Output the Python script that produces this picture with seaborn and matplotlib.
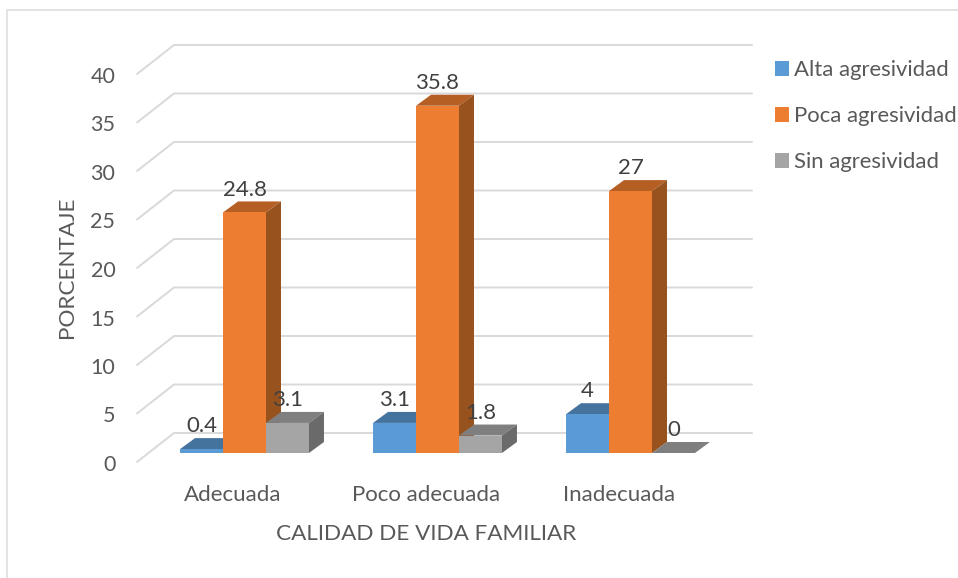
import pandas as pd
import matplotlib
matplotlib.use('Agg')
import matplotlib.pyplot as plt
import seaborn as sns
from matplotlib.lines import Line2D
from matplotlib.patches import Patch, Polygon
from matplotlib.transforms import ScaledTranslation

# values
categories = ['Adecuada', 'Poco adecuada', 'Inadecuada']
alta = [0.4, 3.1, 4]
poca = [24.8, 35.8, 27]
sin = [3.1, 1.8, 0]
series_names = ['Alta agresividad', 'Poca agresividad', 'Sin agresividad']
y_ticks = [0, 5, 10, 15, 20, 25, 30, 35, 40]

front_colors = ['#5B9BD5', '#ED7D31', '#A5A5A5']
top_colors = ['#44739E', '#B65F25', '#7F7F7F']
side_colors = ['#3A6389', '#97521E', '#6A6A6A']

W, H = 958, 578

sns.set_theme(style='white')
plt.rcParams['font.family'] = ['Lato', 'DejaVu Sans']

df = pd.DataFrame({
    'categoria': categories * 3,
    'serie': sum([[n] * 3 for n in series_names], []),
    'valor': alta + poca + sin,
})

fig = plt.figure(figsize=(W / 100, H / 100), dpi=100)
# bar front plane: x 148-727 px, value 0 at y=453, value 40 at y=65
ax = fig.add_axes([148 / W, 1 - 453 / H, 579 / W, 388 / H])

sns.barplot(data=df, x='categoria', y='valor', hue='serie', hue_order=series_names,
            order=categories, palette=front_colors, width=0.668, gap=0,
            saturation=1, legend=False, linewidth=0, zorder=3, ax=ax)

ax.set_xlim(-0.5, 2.5)
ax.set_ylim(0, 40)
for s in ax.spines.values():
    s.set_visible(False)

# pixel to data helpers for the fake 3D depth
px_x = 3 / 579
px_y = 40 / 388

# side walls with gridlines
for v in y_ticks:
    ax.plot([-0.5 - 11 * px_x, -0.5 + 26 * px_x, 2.5 + 25 * px_x],
            [v - 9 * px_y, v + 20 * px_y, v + 20 * px_y],
            color='#D9D9D9', lw=1.4, clip_on=False, zorder=1)

# top and side faces of each bar
dx = 15 * px_x
dy = 11 * px_y
for i, cont in enumerate(ax.containers):
    for bar in cont:
        x0 = bar.get_x()
        x1 = x0 + bar.get_width()
        h = bar.get_height()
        ax.add_patch(Polygon([(x0, h), (x1, h), (x1 + dx, h + dy), (x0 + dx, h + dy)],
                             fc=top_colors[i], ec='none', clip_on=False, zorder=2))
        ax.add_patch(Polygon([(x1, 0), (x1 + dx, dy), (x1 + dx, h + dy), (x1, h)],
                             fc=side_colors[i], ec='none', clip_on=False, zorder=2))
        ax.annotate(f'{h:g}', (x0 + bar.get_width() / 2, h), xytext=(0, 16.4),
                    textcoords='offset points', ha='center', va='center',
                    fontsize=16, color='#404040', zorder=5, annotation_clip=False)

# tick labels sit on the front edge of the floor
ax.set_yticks(y_ticks)
ax.set_yticklabels([str(v) for v in y_ticks])
ax.tick_params(axis='y', length=0, pad=23.5, labelsize=15.5, labelcolor='#595959')
ax.tick_params(axis='x', length=0, pad=23, labelsize=16, labelcolor='#595959')
shift_y = ScaledTranslation(0, -10 / 100, fig.dpi_scale_trans)
shift_x = ScaledTranslation(-11.5 / 100, 0, fig.dpi_scale_trans)
for lab in ax.get_yticklabels():
    lab.set_transform(lab.get_transform() + shift_y)
for lab in ax.get_xticklabels():
    lab.set_transform(lab.get_transform() + shift_x)

ax.set_xlabel('CALIDAD DE VIDA FAMILIAR', fontsize=16.2, color='#595959')
ax.set_ylabel('PORCENTAJE', fontsize=16.2, color='#595959')
ax.xaxis.set_label_coords(426 / W, 1 - 534 / H, transform=fig.transFigure)
ax.yaxis.set_label_coords(67 / W, 1 - 267 / H, transform=fig.transFigure)
ax.xaxis.label.set_va('center')
ax.yaxis.label.set_va('center')

handles = [Patch(fc=c, ec='none') for c in front_colors]
fig.legend(handles, series_names, loc='upper left', bbox_to_anchor=(770.6 / W, 1 - 56 / H),
           bbox_transform=fig.transFigure, frameon=False, fontsize=15.9,
           labelcolor='#595959', handlelength=0.63, handleheight=0.63,
           handletextpad=0.22, labelspacing=1.17, borderpad=0.2, borderaxespad=0)

# outer chart frame, only left and top show in the picture
fig.add_artist(Line2D([7 / W, 7 / W, 1], [0, 1 - 10 / H, 1 - 10 / H],
                      color='#E0E0E0', lw=1.3, transform=fig.transFigure))

fig.savefig('out.png', dpi=100)
